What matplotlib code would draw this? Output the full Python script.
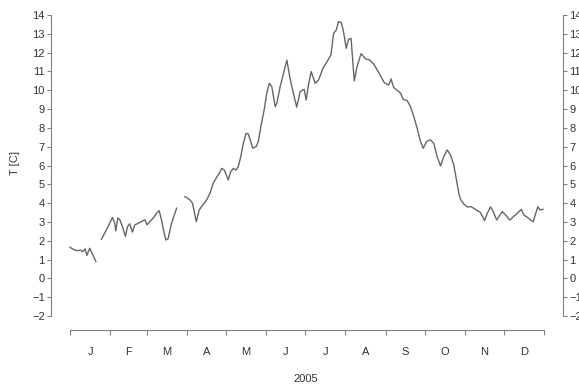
import matplotlib
matplotlib.use("Agg")
import matplotlib.pyplot as plt
import numpy as np

plt.rcParams['font.family'] = ['Liberation Sans', 'DejaVu Sans']

# daily water temperature 2005, day of year (0 = 1 Jan) and T [C]; three measured stretches
day_jan = [0, 2.3, 5.4, 8, 10, 11.6, 13, 15.2, 17.3, 20]
temp_jan = [1.66, 1.55, 1.47, 1.51, 1.42, 1.57, 1.22, 1.6, 1.3, 0.89]

day_feb = [24.2, 28, 31.2, 32.7, 34.5, 35.3, 36.8, 38.3, 40.4, 42.7, 44.3, 46, 48.1,
           49.9, 52.5, 55.1, 57.6, 59.4, 61.5, 64, 66.7, 68.7, 70.5, 72.3, 73.8, 75.5,
           78.2, 82.1]
temp_feb = [2.08, 2.57, 3.02, 3.24, 2.93, 2.52, 3.21, 3.14, 2.75, 2.24, 2.75, 2.9, 2.46,
            2.84, 2.93, 3.02, 3.12, 2.85, 3.02, 3.2, 3.46, 3.6, 3.1, 2.48, 2.04, 2.1,
            2.93, 3.73]

day_main = [88.5, 90.6, 92.4, 94.4, 96.2, 97.3, 99.5, 102.2, 105.2, 107.8, 110.3, 112.9,
            115, 116.8, 118.8, 120.7, 121.9, 123.7, 125.8, 127.8, 129.6, 131.5, 133.5,
            135.6, 137.3, 139.2, 140.7, 143.3, 145, 147.2, 149.5, 151.5, 153.5, 155.4,
            156.7, 158, 159.3, 161.8, 164.4, 167, 169.4, 172, 174.6, 177.2, 180.3, 181.9,
            183.6, 185.7, 188.8, 191.4, 194.8, 197.9, 200.9, 203, 205, 206.8, 208.9,
            210.6, 212.7, 214.5, 216.4, 218.9, 221, 224.1, 227.5, 230.7, 233.8, 237.7,
            242, 245.4, 247.2, 249.2, 251.9, 254.4, 256.5, 259.6, 262.2, 264.7, 267.3,
            269.9, 272, 274.5, 277.5, 280.1, 282.7, 285.3, 287.8, 290.4, 293, 295.5,
            297.6, 299.4, 300.7, 303.2, 305.8, 309, 312.3, 316.1, 319.2, 321.3, 323.8,
            325.9, 328.5, 330.2, 332.9, 335.4, 338.7, 341.4, 344.4, 347.5, 349.5, 352.1,
            354.7, 356.7, 358.6, 360.3, 361.9, 364.2]
temp_main = [4.34, 4.26, 4.17, 3.99, 3.37, 3.02, 3.64, 3.9, 4.17, 4.52, 5.06, 5.37,
             5.59, 5.85, 5.76, 5.44, 5.23, 5.67, 5.85, 5.76, 5.94, 6.47, 7.18,
             7.71, 7.68, 7.27, 6.92, 7.0, 7.27, 8.16, 8.95, 9.84, 10.37, 10.19,
             9.66, 9.13, 9.31, 10.19, 10.9, 11.6, 10.64, 9.84, 9.1, 9.93, 10.05, 9.48,
             10.28, 10.99, 10.37, 10.55, 11.17, 11.52, 11.88, 13.03, 13.2, 13.65, 13.6,
             13.12, 12.23, 12.71, 12.76, 10.5, 11.25, 11.95, 11.68, 11.61, 11.4, 10.95,
             10.4, 10.28, 10.6, 10.15, 10.0, 9.86, 9.52, 9.45, 9.13, 8.6, 7.98,
             7.27, 6.92, 7.27, 7.36, 7.18, 6.47, 5.98, 6.47, 6.83, 6.56, 6.03,
             5.23, 4.52, 4.2, 3.95, 3.8, 3.81, 3.66, 3.5, 3.07, 3.46, 3.8,
             3.55, 3.1, 3.28, 3.55, 3.37, 3.1, 3.28, 3.46, 3.67, 3.37, 3.25,
             3.1, 3.01, 3.46, 3.81, 3.64, 3.67]

month_starts = [0, 31, 59, 90, 120, 151, 181, 212, 243, 273, 304, 334, 365]
month_labels = ['J', 'F', 'M', 'A', 'M', 'J', 'J', 'A', 'S', 'O', 'N', 'D']
y_ticks = list(range(-2, 15))

line_col = '#666666'
axis_col = '#808080'
text_col = '#333333'

fig = plt.figure(figsize=(5.79, 3.85), dpi=100)
ax = fig.add_axes([51 / 579, 1 - 330 / 385, 512 / 579, 327 / 385])

for d, t in [(day_jan, temp_jan), (day_feb, temp_feb), (day_main, temp_main)]:
    ax.plot(d, t, color=line_col, lw=1.0)

ax.set_xlim(-0.04 * 365, 1.04 * 365)
ax.set_ylim(-2.744, 14.64)

ax.spines['top'].set_visible(False)
for side in ['left', 'right', 'bottom']:
    ax.spines[side].set_color(axis_col)
    ax.spines[side].set_linewidth(0.8)
ax.spines['left'].set_bounds(-2, 14)
ax.spines['right'].set_bounds(-2, 14)
ax.spines['bottom'].set_bounds(0, 365)

ax.set_yticks(y_ticks)
ax.set_yticklabels([str(v).replace('-', '\u2212') for v in y_ticks])
ax.tick_params(axis='y', which='both', left=True, right=True, labelleft=True,
               labelright=True, length=3, width=0.8, pad=1.5, color=axis_col,
               labelcolor=text_col, labelsize=8)

mids = [(a + b) / 2 for a, b in zip(month_starts[:-1], month_starts[1:])]
ax.set_xticks(month_starts)
ax.set_xticklabels([])
ax.set_xticks(mids, minor=True)
ax.set_xticklabels(month_labels, minor=True)
ax.tick_params(axis='x', which='major', length=3.6, width=0.8, color=axis_col)
ax.tick_params(axis='x', which='minor', length=0, pad=12.5, labelcolor=text_col,
               labelsize=8)

fig.text(15 / 579, 1 - 163 / 385, 'T [C]', rotation=90, ha='center', va='center',
         fontsize=8, color=text_col)
fig.text(306 / 579, 1 - 379 / 385, '2005', ha='center', va='center',
         fontsize=8, color=text_col)

fig.savefig('out.png', dpi=100)
